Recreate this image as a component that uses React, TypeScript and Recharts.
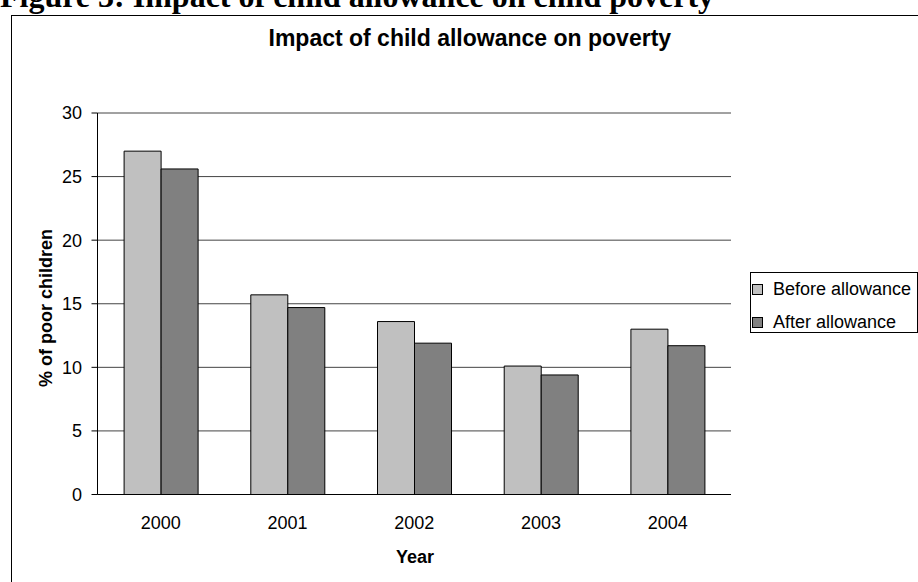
import React from 'react';
import { BarChart, Bar, XAxis, YAxis, CartesianGrid, ReferenceLine } from 'recharts';

const years = ['2000', '2001', '2002', '2003', '2004'];
const beforeAllowance = [27.0, 15.7, 13.6, 10.1, 13.0];
const afterAllowance = [25.6, 14.7, 11.9, 9.4, 11.7];
const yTicks = [0, 5, 10, 15, 20, 25, 30];
const boundaryTicks = [0, 1, 2, 3, 4, 5];
const seriesNames = ['Before allowance', 'After allowance'];
const seriesColors = ['#C0C0C0', '#808080'];

const data = years.map((y, i) => ({ year: y, before: beforeAllowance[i], after: afterAllowance[i] }));

const FONT = '"Liberation Sans", Arial, sans-serif';

export default function App() {
  return (
    <div style={{ position: 'absolute', left: 0, top: 0, width: 918, height: 582, overflow: 'hidden', background: '#fff' }}>
      <div style={{ position: 'absolute', left: 0, top: -20, fontFamily: '"Liberation Serif", "Times New Roman", serif', fontWeight: 'bold', fontSize: 32, whiteSpace: 'nowrap', lineHeight: '32px' }}>
        Figure 3: Impact of child allowance on child poverty
      </div>
      <div style={{ position: 'absolute', left: 11, top: 15, width: 1000, height: 1000, border: '1px solid #000', boxSizing: 'border-box' }} />
      <div style={{ position: 'absolute', left: 0, top: 0 }}>
        <BarChart width={918} height={582} data={data} margin={{ top: 113, right: 187, bottom: 57.5, left: 37.5 }} barCategoryGap="21%" barGap={0}>
          <CartesianGrid xAxisId="cat" vertical={false} stroke="#444" strokeWidth={1} />
          <XAxis xAxisId="b" type="number" domain={[0, 5]} ticks={boundaryTicks} tick={false} tickLine={{ stroke: '#000' }} tickSize={6} axisLine={false} height={0} allowDataOverflow />
          <XAxis xAxisId="cat" dataKey="year" tickLine={false} axisLine={{ stroke: '#000' }} height={30} tickSize={6} tickMargin={16} tick={{ fill: '#000', fontSize: 18, fontFamily: FONT }} />
          <YAxis domain={[0, 30]} ticks={yTicks} width={60} tickSize={6} tickMargin={9.5} axisLine={{ stroke: '#000' }} tickLine={{ stroke: '#000' }} tick={{ fill: '#000', fontSize: 18, fontFamily: FONT }} />
          <ReferenceLine xAxisId="b" x={5} stroke="#888" />
          <Bar xAxisId="cat" dataKey="before" name={seriesNames[0]} fill={seriesColors[0]} stroke="#000" strokeWidth={1} isAnimationActive={false} />
          <Bar xAxisId="cat" dataKey="after" name={seriesNames[1]} fill={seriesColors[1]} stroke="#000" strokeWidth={1} isAnimationActive={false} />
        </BarChart>
      </div>
      <div style={{ position: 'absolute', left: 268.5, width: 400, top: 26, height: 24, lineHeight: '24px', textAlign: 'center', fontFamily: FONT, fontWeight: 'bold', fontSize: 23, whiteSpace: 'nowrap' }}>
        Impact of child allowance on poverty
      </div>
      <div style={{ position: 'absolute', left: 45.5, top: 308, width: 0, height: 0 }}>
        <div style={{ position: 'absolute', left: -120, top: -10, width: 240, height: 20, lineHeight: '20px', textAlign: 'center', transform: 'rotate(-90deg)', fontFamily: FONT, fontWeight: 'bold', fontSize: 18, whiteSpace: 'nowrap' }}>
          % of poor children
        </div>
      </div>
      <div style={{ position: 'absolute', left: 315, width: 200, top: 546.5, height: 20, lineHeight: '20px', textAlign: 'center', fontFamily: FONT, fontWeight: 'bold', fontSize: 18 }}>
        Year
      </div>
      <div style={{ position: 'absolute', left: 750, top: 272, width: 168, height: 61, border: '1px solid #000', boxSizing: 'border-box', fontFamily: FONT, fontSize: 18 }}>
        {seriesNames.map((n, i) => (
          <div key={n} style={{ position: 'absolute', left: 1, top: 6 + i * 33, display: 'flex', alignItems: 'center', height: 20, lineHeight: '20px', whiteSpace: 'nowrap' }}>
            <span style={{ display: 'inline-block', width: 11, height: 11, boxSizing: 'border-box', background: seriesColors[i], border: '1px solid #000', marginRight: 10 }} />
            <span>{n}</span>
          </div>
        ))}
      </div>
    </div>
  );
}
